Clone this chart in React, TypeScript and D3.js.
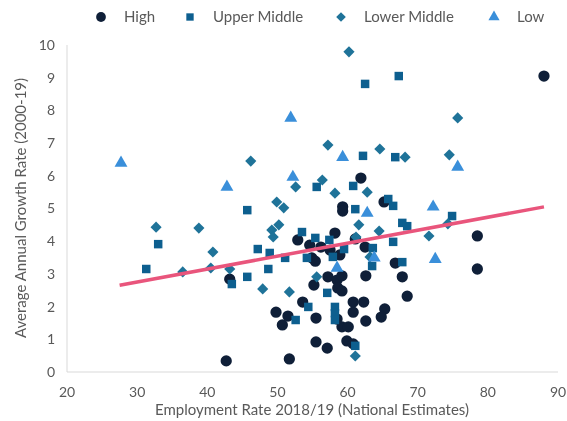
import React, { useEffect, useRef } from "react";
import * as d3 from "d3";

// employment rate (x) vs average annual growth (y)
const high: [number, number][] = [
  [88.0, 9.05], [61.9, 5.93], [65.2, 5.2], [59.3, 5.05], [59.3, 4.92], [52.9, 4.04],
  [54.6, 3.88], [56.2, 3.82], [58.2, 4.25], [57.5, 3.73], [54.9, 3.49], [61.1, 4.07],
  [62.5, 3.82], [58.9, 3.58], [66.8, 3.33], [67.8, 2.91], [57.2, 2.91], [55.2, 2.66],
  [58.5, 2.81], [58.6, 2.57], [53.6, 2.14], [49.8, 1.83], [51.5, 1.71], [50.7, 1.44],
  [55.5, 1.65], [55.5, 0.92], [57.1, 0.73], [51.7, 0.4], [59.2, 2.94], [62.6, 2.94],
  [68.5, 2.32], [59.2, 2.48], [60.8, 2.14], [62.3, 2.14], [60.8, 1.83], [65.3, 1.93],
  [64.8, 1.68], [62.6, 1.56], [59.2, 1.38], [60.1, 1.38], [59.9, 0.95], [60.8, 0.86],
  [42.7, 0.34], [43.2, 2.84], [78.5, 4.16], [78.5, 3.15], [58.5, 1.62], [55.4, 3.39],
];

const upperMiddle: [number, number][] = [
  [62.5, 8.81], [67.3, 9.05], [62.2, 6.61], [66.8, 6.57], [45.7, 4.95], [33.0, 3.91],
  [47.2, 3.76], [48.9, 3.64], [51.1, 3.49], [60.8, 5.69], [55.6, 5.66], [61.1, 4.98],
  [65.8, 5.29], [66.5, 5.08], [67.8, 4.56], [68.5, 4.46], [53.5, 4.28], [55.4, 4.1],
  [57.4, 4.04], [66.5, 3.98], [54.2, 3.49], [57.9, 3.52], [59.5, 3.76], [63.6, 3.79],
  [67.8, 3.36], [48.7, 3.15], [45.7, 2.91], [63.5, 3.24], [43.5, 2.69], [57.1, 2.42],
  [54.4, 1.99], [52.6, 1.59], [58.2, 1.99], [58.2, 1.8], [58.2, 1.59], [61.1, 0.8],
  [74.9, 4.77], [31.3, 3.15],
];

const lowerMiddle: [number, number][] = [
  [60.2, 9.79], [75.7, 7.77], [57.2, 6.94], [64.6, 6.82], [68.2, 6.57], [74.5, 6.64],
  [74.3, 4.53], [71.6, 4.16], [46.2, 6.45], [52.6, 5.66], [49.9, 5.2], [50.9, 5.02],
  [32.7, 4.43], [38.8, 4.4], [50.2, 4.5], [49.2, 4.34], [49.4, 4.13], [40.8, 3.67],
  [56.4, 5.87], [58.2, 5.47], [62.8, 5.5], [61.6, 4.5], [64.5, 4.31], [63.2, 3.52],
  [61.2, 4.13], [55.6, 2.91], [43.2, 3.15], [47.9, 2.54], [51.7, 2.45], [61.1, 0.49],
  [36.5, 3.06], [40.5, 3.18],
];

const low: [number, number][] = [
  [27.7, 6.39], [42.8, 5.66], [51.9, 7.77], [52.2, 5.96], [59.3, 6.57], [62.8, 4.86],
  [72.2, 5.05], [75.7, 6.27], [72.5, 3.45], [63.8, 3.49], [58.5, 3.18],
];

const trend: [number, number][] = [[27.5, 2.65], [88, 5.05]];

const xTicks = [20, 30, 40, 50, 60, 70, 80, 90];
const yTicks = [0, 1, 2, 3, 4, 5, 6, 7, 8, 9, 10];

const series = [
  { name: "High", data: high, symbol: d3.symbolCircle, size: 100, rot: 0, color: "#0f1f38" },
  { name: "Upper Middle", data: upperMiddle, symbol: d3.symbolSquare, size: 72, rot: 0, color: "#0d5f8f" },
  { name: "Lower Middle", data: lowerMiddle, symbol: d3.symbolSquare, size: 62, rot: 45, color: "#1f7399" },
  { name: "Low", data: low, symbol: d3.symbolTriangle, size: 72, rot: 0, color: "#3a8fda" },
];

const legendX = [101, 190, 341, 494];

function App() {
  const svgRef = useRef<SVGSVGElement>(null);
  const svgWidth = 567;
  const svgHeight = 421;

  useEffect(() => {
    const svg = d3.select(svgRef.current);
    svg.selectAll("*").remove();
    const font = "Lato, 'Open Sans', sans-serif";
    const grey = "#595959";

    const x = d3.scaleLinear().domain([20, 90]).range([67, 558]);
    const y = d3.scaleLinear().domain([0, 10]).range([372, 45]);

    // frame
    svg.append("line").attr("x1", 67).attr("x2", 67).attr("y1", 45).attr("y2", 372)
      .attr("stroke", "#d9d9d9");
    svg.append("line").attr("x1", 67).attr("x2", 558).attr("y1", 372).attr("y2", 372)
      .attr("stroke", "#d9d9d9");

    svg.append("g").selectAll("text").data(yTicks).enter().append("text")
      .attr("x", 55).attr("y", (d) => y(d)).attr("dy", "0.35em")
      .attr("text-anchor", "end").style("font-family", font).style("font-size", "14px")
      .attr("fill", grey).text((d) => d);

    svg.append("g").selectAll("text").data(xTicks).enter().append("text")
      .attr("x", (d) => x(d)).attr("y", 397)
      .attr("text-anchor", "middle").style("font-family", font).style("font-size", "14px")
      .attr("fill", grey).text((d) => d);

    svg.append("text").attr("x", 312).attr("y", 415).attr("text-anchor", "middle")
      .style("font-family", font).style("font-size", "15px").attr("fill", grey)
      .text("Employment Rate 2018/19 (National Estimates)");

    svg.append("text").attr("transform", "translate(26,208) rotate(-90)")
      .attr("text-anchor", "middle").style("font-family", font).style("font-size", "15px")
      .attr("fill", grey).text("Average Annual Growth Rate (2000-19)");

    series.forEach((s) => {
      svg.append("g").selectAll("path").data(s.data).enter().append("path")
        .attr("d", d3.symbol().type(s.symbol).size(s.size)())
        .attr("transform", (d) => `translate(${x(d[0])},${y(d[1])}) rotate(${s.rot})`)
        .attr("fill", s.color);
    });

    svg.append("path").datum(trend)
      .attr("d", d3.line<[number, number]>().x((d) => x(d[0])).y((d) => y(d[1])))
      .attr("stroke", "#e9557c").attr("stroke-width", 3.5).attr("fill", "none");

    // legend
    series.forEach((s, i) => {
      svg.append("path")
        .attr("d", d3.symbol().type(s.symbol).size(s.size * 0.75)())
        .attr("transform", `translate(${legendX[i]},17) rotate(${s.rot})`).attr("fill", s.color);
      svg.append("text").attr("x", legendX[i] + 23).attr("y", 17).attr("dy", "0.35em")
        .style("font-family", font).style("font-size", "15px").attr("fill", grey)
        .text(s.name);
    });
  }, []);

  return (
    <div style={{ position: "fixed", left: 0, top: 0 }}>
      <svg ref={svgRef} width={svgWidth} height={svgHeight} style={{ display: "block" }}></svg>
    </div>
  );
}

export default App;
